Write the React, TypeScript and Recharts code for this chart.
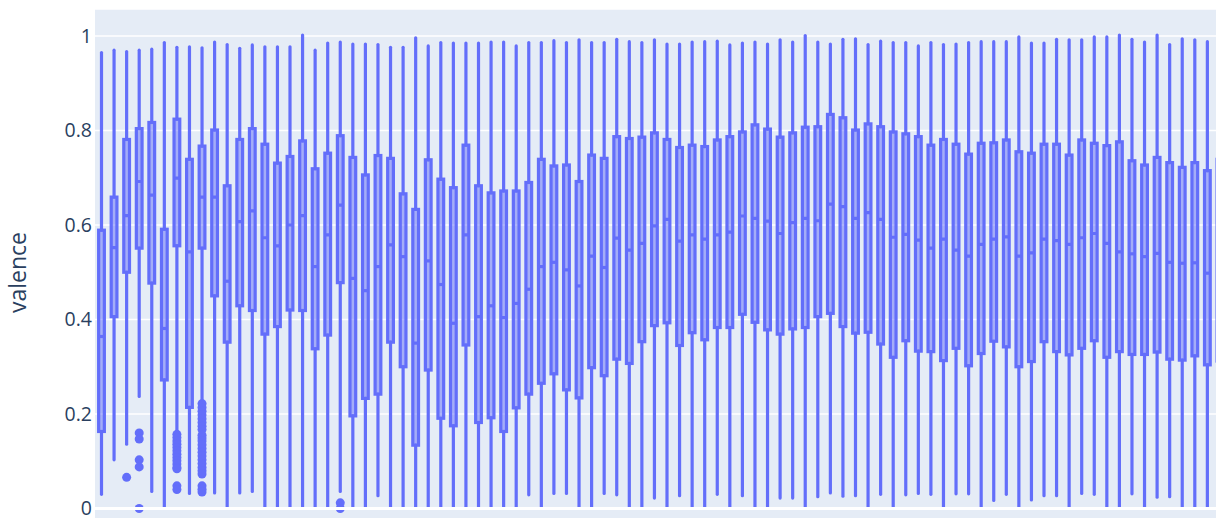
import { ComposedChart, Bar, XAxis, YAxis, CartesianGrid, ReferenceLine } from "recharts";

// one box per year
const years = Array.from({ length: 90 }, (_, i) => String(1921 + i));

const upperFence = [
  0.965, 0.970, 0.967, 0.970, 0.972, 0.986, 0.976, 0.977, 0.975, 0.987,
  0.982, 0.974, 0.981, 0.977, 0.977, 0.977, 1.002, 0.970, 0.985, 0.987,
  0.983, 0.983, 0.982, 0.976, 0.976, 0.996, 0.979, 0.986, 0.985, 0.985,
  0.985, 0.987, 0.987, 0.979, 0.986, 0.986, 0.990, 0.986, 0.992, 0.986,
  0.986, 0.993, 0.988, 0.986, 0.992, 0.983, 0.983, 0.987, 0.988, 0.989,
  0.981, 0.985, 0.987, 0.983, 0.992, 0.987, 1.001, 0.987, 0.983, 0.993,
  0.994, 0.982, 0.989, 0.986, 0.986, 0.979, 0.986, 0.982, 0.983, 0.986,
  0.988, 0.988, 0.988, 0.998, 0.985, 0.985, 0.993, 0.992, 0.992, 0.998,
  0.998, 1.002, 0.993, 0.987, 1.002, 0.982, 0.994, 0.992, 0.988, 0.990,
];

const q3 = [
  0.589, 0.659, 0.781, 0.804, 0.817, 0.591, 0.824, 0.739, 0.767, 0.801,
  0.683, 0.781, 0.804, 0.771, 0.731, 0.745, 0.778, 0.719, 0.752, 0.789,
  0.743, 0.706, 0.747, 0.741, 0.666, 0.633, 0.738, 0.697, 0.679, 0.769,
  0.683, 0.668, 0.672, 0.672, 0.690, 0.739, 0.725, 0.727, 0.692, 0.748,
  0.741, 0.787, 0.783, 0.786, 0.795, 0.781, 0.764, 0.769, 0.766, 0.780,
  0.787, 0.797, 0.812, 0.803, 0.786, 0.795, 0.807, 0.808, 0.834, 0.827,
  0.801, 0.814, 0.808, 0.797, 0.793, 0.787, 0.769, 0.781, 0.771, 0.750,
  0.773, 0.774, 0.780, 0.755, 0.752, 0.771, 0.771, 0.748, 0.780, 0.773,
  0.768, 0.776, 0.736, 0.727, 0.743, 0.732, 0.722, 0.732, 0.715, 0.739,
];

const median = [
  0.364, 0.552, 0.620, 0.692, 0.663, 0.381, 0.699, 0.543, 0.659, 0.659,
  0.481, 0.607, 0.630, 0.573, 0.556, 0.600, 0.620, 0.512, 0.579, 0.642,
  0.487, 0.461, 0.512, 0.558, 0.533, 0.350, 0.524, 0.474, 0.392, 0.579,
  0.406, 0.429, 0.404, 0.434, 0.464, 0.512, 0.521, 0.505, 0.471, 0.534,
  0.510, 0.572, 0.547, 0.561, 0.598, 0.612, 0.566, 0.579, 0.570, 0.579,
  0.585, 0.619, 0.614, 0.608, 0.582, 0.605, 0.614, 0.609, 0.644, 0.639,
  0.614, 0.626, 0.612, 0.574, 0.580, 0.568, 0.551, 0.570, 0.547, 0.534,
  0.559, 0.570, 0.575, 0.534, 0.541, 0.570, 0.567, 0.559, 0.573, 0.582,
  0.561, 0.543, 0.539, 0.533, 0.540, 0.521, 0.519, 0.520, 0.498, 0.520,
];

const q1 = [
  0.163, 0.406, 0.500, 0.551, 0.477, 0.272, 0.556, 0.214, 0.551, 0.450,
  0.352, 0.429, 0.419, 0.369, 0.385, 0.420, 0.419, 0.338, 0.367, 0.478,
  0.196, 0.233, 0.242, 0.352, 0.300, 0.134, 0.293, 0.191, 0.175, 0.346,
  0.182, 0.192, 0.163, 0.213, 0.242, 0.265, 0.285, 0.251, 0.234, 0.298,
  0.281, 0.316, 0.307, 0.353, 0.387, 0.393, 0.345, 0.372, 0.357, 0.383,
  0.383, 0.411, 0.394, 0.378, 0.369, 0.380, 0.383, 0.406, 0.413, 0.385,
  0.371, 0.373, 0.348, 0.320, 0.355, 0.333, 0.332, 0.313, 0.339, 0.302,
  0.328, 0.354, 0.342, 0.300, 0.311, 0.353, 0.332, 0.325, 0.339, 0.355,
  0.320, 0.332, 0.326, 0.326, 0.331, 0.316, 0.314, 0.323, 0.304, 0.312,
];

const lowerFence = [
  0.030, 0.103, 0.136, 0.237, 0.036, 0.000, 0.166, 0.032, 0.232, 0.033,
  0.000, 0.033, 0.036, 0.000, 0.000, 0.000, 0.000, 0.000, 0.000, 0.036,
  0.000, 0.000, 0.027, 0.000, 0.000, 0.000, 0.000, 0.000, 0.000, 0.000,
  0.000, 0.000, 0.000, 0.000, 0.029, 0.000, 0.032, 0.032, 0.000, 0.000,
  0.032, 0.029, 0.000, 0.000, 0.022, 0.000, 0.027, 0.000, 0.002, 0.030,
  0.000, 0.027, 0.000, 0.000, 0.022, 0.022, 0.000, 0.025, 0.033, 0.026,
  0.027, 0.000, 0.030, 0.000, 0.029, 0.032, 0.030, 0.000, 0.031, 0.031,
  0.000, 0.017, 0.030, 0.000, 0.018, 0.027, 0.027, 0.000, 0.032, 0.030,
  0.000, 0.000, 0.031, 0.000, 0.024, 0.025, 0.000, 0.000, 0.000, 0.000,
];

// points beyond the whiskers, keyed by box index
const outliers: Record<number, number[]> = {
  2: [0.066],
  3: [0.16, 0.147, 0.103, 0.088, 0.0],
  6: [0.157, 0.15, 0.143, 0.136, 0.129, 0.122, 0.115, 0.108, 0.101, 0.094, 0.087, 0.084, 0.048, 0.04],
  8: [
    0.222, 0.214, 0.206, 0.198, 0.19, 0.182, 0.174, 0.167, 0.155, 0.149, 0.143, 0.135,
    0.127, 0.119, 0.111, 0.103, 0.095, 0.087, 0.08, 0.073, 0.048, 0.041, 0.035,
  ],
  19: [0.012, 0.0],
};

const yTicks = [0, 0.2, 0.4, 0.6, 0.8, 1];

const COLOR = "#636efa";
const FILL = "rgba(99,110,250,0.5)";
const LINE_W = 3.2;

const data = years.map((year, i) => {
  const pts = outliers[i] || [];
  return {
    year,
    upper: upperFence[i],
    q3: q3[i],
    median: median[i],
    q1: q1[i],
    lower: lowerFence[i],
    outliers: pts,
    range: [Math.min(lowerFence[i], ...pts), Math.max(upperFence[i], ...pts)],
  };
});

const BoxShape = (props: any) => {
  const { x, y, width, height, payload } = props;
  if (!payload) return null;
  const [lo, hi] = payload.range;
  const top = Math.min(y, y + height);
  const bottom = Math.max(y, y + height);
  // map a value onto the pixel span of the [lo, hi] bar
  const toY = (v: number) => top + ((hi - v) / (hi - lo)) * (bottom - top);
  const cx = x + width / 2;
  const bw = width * 0.44;
  const yQ3 = toY(payload.q3);
  const yQ1 = toY(payload.q1);
  const yMed = toY(payload.median);

  return (
    <g>
      <line x1={cx} x2={cx} y1={toY(payload.upper)} y2={yQ3} stroke={COLOR} strokeWidth={LINE_W} strokeLinecap="round" />
      <line x1={cx} x2={cx} y1={yQ1} y2={toY(payload.lower)} stroke={COLOR} strokeWidth={LINE_W} strokeLinecap="round" />
      <rect x={cx - bw / 2} y={yQ3} width={bw} height={yQ1 - yQ3} fill={FILL} stroke={COLOR} strokeWidth={LINE_W} />
      <line x1={cx - bw / 2} x2={cx + bw / 2} y1={yMed} y2={yMed} stroke={COLOR} strokeWidth={LINE_W} />
      {payload.outliers.map((v: number, k: number) => (
        <circle key={k} cx={cx} cy={toY(v)} r={4.5} fill={COLOR} />
      ))}
    </g>
  );
};

export default function App() {
  return (
    <div style={{ position: "fixed", left: 0, top: 0, width: 1216, height: 518, overflow: "hidden", background: "#fff" }}>
      <ComposedChart
        width={1226}
        height={536}
        data={data}
        margin={{ top: 9, right: 0, bottom: 0, left: 0 }}
        barCategoryGap={0}
      >
        <CartesianGrid vertical={false} stroke="#fff" strokeWidth={1.6} fill="#E5ECF6" />
        <XAxis dataKey="year" hide />
        <YAxis
          type="number"
          width={95}
          domain={[-0.0582, 1.0571]}
          ticks={yTicks}
          allowDataOverflow
          axisLine={false}
          tickLine={false}
          tickSize={0}
          tickMargin={3}
          tickFormatter={(v: number) => String(v)}
          tick={{ fill: "#2a3f5f", fontSize: 19.5, fontFamily: '"Open Sans", sans-serif' }}
          label={{
            value: "valence",
            angle: -90,
            position: "insideLeft",
            offset: 18,
            style: { textAnchor: "middle", fill: "#2a3f5f", fontSize: 23, fontFamily: '"Open Sans", sans-serif' },
          }}
        />
        <ReferenceLine y={0} stroke="#fff" strokeWidth={3.2} />
        <Bar dataKey="range" shape={BoxShape} isAnimationActive={false} />
      </ComposedChart>
    </div>
  );
}
